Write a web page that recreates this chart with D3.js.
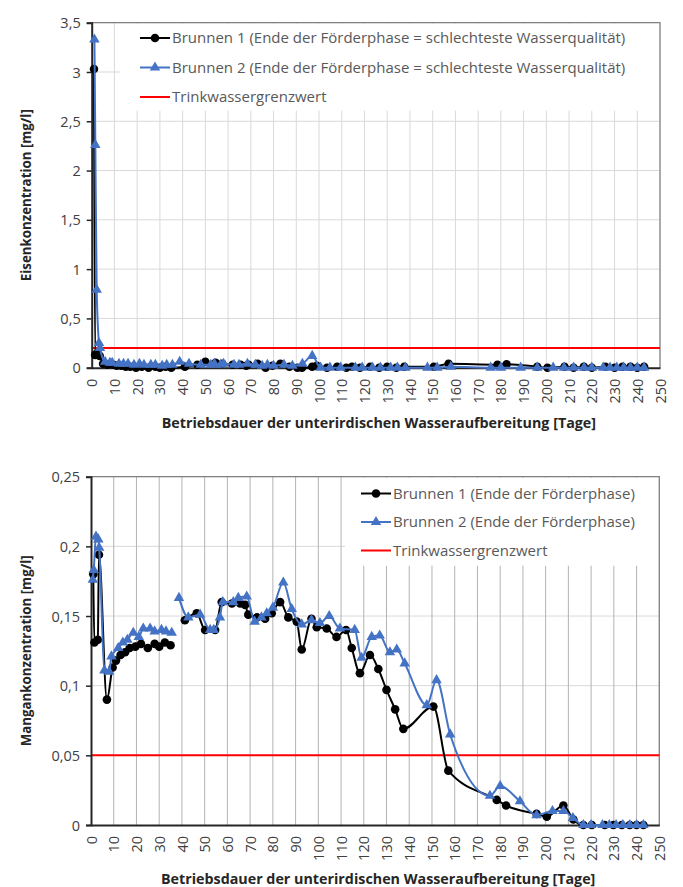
<!DOCTYPE html>
<html>
<head>
<meta charset="utf-8">
<script src="https://cdn.jsdelivr.net/npm/d3@7"></script>
<style>
  body { margin: 0; background: #fff; }
  text { font-family: "Open Sans", sans-serif; }
  .tick-label { font-size: 14.5px; fill: #404040; }
  .axis-title { font-size: 14.3px; font-weight: bold; fill: #262626; }
  .y-title { font-size: 13.3px; }
  .legend-text { font-size: 15px; fill: #595959; }
</style>
</head>
<body>
<div id="chart"></div>
<script>
// ---- Eisen (top chart) ----
var feDays1 = [1, 1.5, 2.5, 3.5, 5, 7, 9.5, 11, 13, 15, 17, 19.5, 22, 25, 28, 30, 32.5, 35,
    41, 46.5, 50, 54.5, 57.5, 62, 65.5, 68, 69, 73, 76.5, 79.5, 83, 87, 90.5, 92.5, 97, 99,
    103.5, 108, 112, 114.5, 118, 122.5, 126.5, 130, 134, 137.5, 150.5, 157, 178.5, 182.5,
    196, 200.5, 208, 212, 216.5, 220, 226, 230, 233.5, 237, 240, 243];
var feVals1 = [3.03, 0.13, 0.15, 0.12, 0.04, 0.03, 0.03, 0.02, 0.02, 0.01, 0.01, 0.0, 0.01, 0.0, 0.01, 0.0, 0.01, 0.0,
    0.01, 0.03, 0.06, 0.05, 0.04, 0.03, 0.03, 0.02, 0.03, 0.04, 0.0, 0.02, 0.04, 0.01, 0.0, 0.0, 0.01, 0.02,
    0.0, 0.01, 0.0, 0.01, 0.0, 0.01, 0.0, 0.01, 0.0, 0.01, 0.01, 0.04, 0.03, 0.035,
    0.01, 0.0, 0.01, 0.0, 0.01, 0.0, 0.01, 0.0, 0.01, 0.01, 0.0, 0.01];

var feDays2 = [1.2, 1.6, 2.2, 3.2, 3.6, 5.9, 8, 9, 12, 14, 16, 18.6, 21, 23, 26, 28, 31, 33, 35.5,
    38.7, 42.8, 48, 52.4, 54, 56.7, 58, 62.6, 64.8, 68.5, 72, 75, 77.3, 80, 84.6, 88.3, 92.7, 97,
    100.7, 104.8, 109.5, 116, 119, 123.5, 127, 131.5, 134.5, 138, 147.7, 152, 158, 175.5, 180,
    188.7, 196, 203, 207.8, 212, 216.6, 220, 225, 228, 231, 234, 237, 240, 243];
var feVals2 = [3.33, 2.26, 0.79, 0.25, 0.2, 0.06, 0.05, 0.05, 0.04, 0.04, 0.04, 0.03, 0.04, 0.03, 0.03, 0.03, 0.02, 0.03, 0.03,
    0.06, 0.04, 0.03, 0.03, 0.04, 0.03, 0.04, 0.03, 0.03, 0.04, 0.03, 0.02, 0.03, 0.02, 0.03, 0.02, 0.04, 0.12,
    0.0, 0.0, 0.0, 0.0, 0.0, 0.0, 0.0, 0.0, 0.0, 0.0, 0.0, 0.0, 0.01, 0.0, 0.0,
    0.0, 0.0, 0.0, 0.0, 0.0, 0.0, 0.0, 0.0, 0.0, 0.0, 0.0, 0.0, 0.0, 0.0];

var feLimit = 0.2;
var feLegend = [
    "Brunnen 1 (Ende der Förderphase = schlechteste Wasserqualität)",
    "Brunnen 2 (Ende der Förderphase = schlechteste Wasserqualität)",
    "Trinkwassergrenzwert"
];
var feTicks = [0, 0.5, 1, 1.5, 2, 2.5, 3, 3.5];

// ---- Mangan (bottom chart) ----
var mnDays1 = [1, 1.5, 3, 3.5, 7, 9.5, 11, 13, 15, 17, 19.5, 22, 25, 28, 30, 32.5, 35, 38,
    41.3, 46.5, 50.2, 54.6, 57.5, 62, 65.6, 67.8, 69.2, 73, 76.6, 79.5, 83.2, 86.8, 90.5, 92.7, 97,
    99.3, 103.7, 108, 112.2, 114.7, 118.3, 122.7, 126.4, 130, 133.8, 137.4, 150.6, 157.2, 178.5,
    182.6, 196, 200.5, 207.8, 212.2, 216.6, 220.3, 226, 229.8, 233.5, 237, 240, 243];
var mnVals1 = [0.180, 0.131, 0.133, 0.194, 0.090, 0.113, 0.118, 0.122, 0.124, 0.127, 0.128, 0.130, 0.127, 0.130, 0.128, 0.131, 0.129, null,
    0.147, 0.152, 0.140, 0.140, 0.160, 0.159, 0.159, 0.158, 0.151, 0.149, 0.148, 0.152, 0.160, 0.149, 0.146, 0.126, 0.148,
    0.142, 0.141, 0.135, 0.140, 0.127, 0.109, 0.122, 0.112, 0.097, 0.083, 0.069, 0.085, 0.039, 0.018,
    0.014, 0.008, 0.006, 0.014, 0.004, 0, 0, 0, 0, 0, 0, 0, 0];

var mnDays2 = [0.8, 1.2, 2.2, 3.2, 3.6, 5.9, 8, 9, 12, 14, 16, 18.6, 21, 23, 26, 28, 31, 33, 35.5, 37,
    38.7, 42.8, 48, 52.4, 54, 56.7, 58, 62.6, 64.8, 68.5, 72, 75, 77.3, 80, 84.6, 88.3, 92.7, 97,
    100.7, 104.8, 109.5, 116, 119, 123.5, 127, 131.5, 134.5, 138, 147.7, 152, 158, 175.5, 180,
    188.7, 196, 203, 207.8, 212, 216.6, 220, 225, 228, 231, 234, 237, 240, 243];
var mnVals2 = [0.176, 0.183, 0.207, 0.205, 0.199, 0.111, 0.110, 0.121, 0.127, 0.131, 0.133, 0.138, 0.135, 0.141, 0.141, 0.139, 0.140, 0.139, 0.138, null,
    0.163, 0.149, 0.151, 0.140, 0.140, 0.149, 0.160, 0.160, 0.163, 0.164, 0.146, 0.149, 0.152, 0.156, 0.174, 0.155, 0.144, 0.147,
    0.145, 0.150, 0.141, 0.140, 0.120, 0.135, 0.136, 0.124, 0.126, 0.116, 0.086, 0.104, 0.065, 0.021, 0.028,
    0.017, 0.007, 0.010, 0.010, 0.005, 0, 0, 0, 0, 0, 0, 0, 0, 0];

var mnLimit = 0.05;
var mnLegend = [
    "Brunnen 1 (Ende der Förderphase)",
    "Brunnen 2 (Ende der Förderphase)",
    "Trinkwassergrenzwert"
];
var mnTicks = [0, 0.05, 0.1, 0.15, 0.2, 0.25];

var xTicks = d3.range(0, 251, 10);
var xTitle = "Betriebsdauer der unterirdischen Wasseraufbereitung [Tage]";

var black = "#000000";
var blue = "#4472C4";
var red = "#FF0000";

var svg = d3.select("#chart").append("svg")
    .attr("width", 683)
    .attr("height", 887);

var fmt = function (v) { return String(v).replace(".", ","); };

function drawChart(cfg) {
    var g = svg.append("g");
    var x = d3.scaleLinear().domain([0, 250]).range([cfg.left, cfg.right]);
    var y = d3.scaleLinear().domain([0, cfg.yMax]).range([cfg.bottom, cfg.top]);

    // horizontal grid
    g.selectAll(".hgrid").data(cfg.yTicks.slice(1)).enter().append("line")
        .attr("x1", cfg.left).attr("x2", cfg.right)
        .attr("y1", d => y(d)).attr("y2", d => y(d))
        .attr("stroke", "#d9d9d9").attr("stroke-width", 1);

    // vertical grid
    g.selectAll(".vgrid").data(xTicks.slice(1)).enter().append("line")
        .attr("x1", d => x(d)).attr("x2", d => x(d))
        .attr("y1", cfg.top).attr("y2", cfg.bottom)
        .attr("stroke", cfg.vGridColor).attr("stroke-width", 1);

    // legend box (covers grid)
    g.append("rect")
        .attr("x", cfg.legend.x0).attr("y", cfg.top + 1)
        .attr("width", cfg.right - cfg.legend.x0 - 1)
        .attr("height", cfg.legend.h)
        .attr("fill", "#fff");

    // frame
    g.append("path")
        .attr("d", `M${cfg.left},${cfg.top}H${cfg.right}V${cfg.bottom}`)
        .attr("fill", "none").attr("stroke", "#808080").attr("stroke-width", 1.2);

    // limit line
    g.append("line")
        .attr("x1", cfg.left).attr("x2", cfg.right)
        .attr("y1", y(cfg.limit)).attr("y2", y(cfg.limit))
        .attr("stroke", red).attr("stroke-width", 2);

    // axes
    var leftAxis = d3.axisLeft(y).tickValues(cfg.yTicks).tickSize(5).tickFormat(fmt);
    var yAx = g.append("g").attr("transform", `translate(${cfg.left},0)`).call(leftAxis);
    yAx.select(".domain").attr("stroke", "#262626").attr("stroke-width", 2);
    yAx.selectAll(".tick line").attr("stroke", "#262626").attr("stroke-width", 1.5);
    yAx.selectAll(".tick text").attr("class", "tick-label").attr("x", -11).attr("dy", "0.35em");

    var bottomAxis = d3.axisBottom(x).tickValues(xTicks).tickSize(0).tickFormat(d => d);
    var xAx = g.append("g").attr("transform", `translate(0,${cfg.bottom})`).call(bottomAxis);
    xAx.select(".domain").attr("stroke", "#262626").attr("stroke-width", 2);
    xAx.selectAll(".tick text")
        .attr("class", "tick-label")
        .attr("text-anchor", "end")
        .attr("transform", "rotate(-90)")
        .attr("x", -11).attr("y", 0).attr("dy", "0.35em");

    // titles
    g.append("text").attr("class", "axis-title")
        .attr("text-anchor", "middle")
        .attr("x", (cfg.left + cfg.right) / 2 + 3)
        .attr("y", cfg.xTitleY)
        .text(xTitle);
    g.append("text").attr("class", "axis-title y-title")
        .attr("text-anchor", "middle")
        .attr("transform", `translate(31,${(cfg.top + cfg.bottom) / 2}) rotate(-90)`)
        .text(cfg.yTitle);

    // series
    var line = d3.line()
        .defined(d => d[1] !== null)
        .x(d => x(d[0])).y(d => y(d[1]))
        .curve(d3.curveMonotoneX);

    var s1 = d3.zip(cfg.days1, cfg.vals1);
    var s2 = d3.zip(cfg.days2, cfg.vals2);

    g.append("path").datum(s1).attr("d", line)
        .attr("fill", "none").attr("stroke", black).attr("stroke-width", 2);
    g.selectAll(".dot1").data(s1.filter(d => d[1] !== null)).enter().append("circle")
        .attr("cx", d => x(d[0])).attr("cy", d => y(d[1])).attr("r", 4.3)
        .attr("fill", black);

    g.append("path").datum(s2).attr("d", line)
        .attr("fill", "none").attr("stroke", blue).attr("stroke-width", 2);
    var tri = d3.symbol().type(d3.symbolTriangle).size(48);
    g.selectAll(".tri2").data(s2.filter(d => d[1] !== null)).enter().append("path")
        .attr("d", tri)
        .attr("transform", d => `translate(${x(d[0])},${y(d[1])})`)
        .attr("fill", blue);

    // legend
    var lg = cfg.legend;
    cfg.legendText.forEach(function (t, i) {
        var ly = lg.y0 + i * lg.dy;
        var col = [black, blue, red][i];
        g.append("line")
            .attr("x1", lg.lx).attr("x2", lg.lx + 30)
            .attr("y1", ly).attr("y2", ly)
            .attr("stroke", col).attr("stroke-width", 2);
        if (i === 0) {
            g.append("circle").attr("cx", lg.lx + 15).attr("cy", ly).attr("r", 4.3).attr("fill", black);
        } else if (i === 1) {
            g.append("path").attr("d", tri)
                .attr("transform", `translate(${lg.lx + 15},${ly})`).attr("fill", blue);
        }
        g.append("text").attr("class", "legend-text")
            .attr("x", lg.lx + 32).attr("y", ly).attr("dy", "0.35em")
            .text(t);
    });
}

drawChart({
    left: 91.7, right: 660, top: 22.7, bottom: 367.7,
    yMax: 3.5, yTicks: feTicks, limit: feLimit,
    vGridColor: "#d9d9d9",
    days1: feDays1, vals1: feVals1, days2: feDays2, vals2: feVals2,
    yTitle: "Eisenkonzentration [mg/l]", xTitleY: 428,
    legendText: feLegend,
    legend: { x0: 120, h: 87, lx: 140, y0: 38, dy: 29.5 }
});

drawChart({
    left: 91, right: 659.3, top: 476.7, bottom: 825,
    yMax: 0.25, yTicks: mnTicks, limit: mnLimit,
    vGridColor: "#b3b3b3",
    days1: mnDays1, vals1: mnVals1, days2: mnDays2, vals2: mnVals2,
    yTitle: "Mangankonzentration [mg/l]", xTitleY: 884,
    legendText: mnLegend,
    legend: { x0: 345, h: 88, lx: 361, y0: 493.5, dy: 28.5 }
});
</script>
</body>
</html>
